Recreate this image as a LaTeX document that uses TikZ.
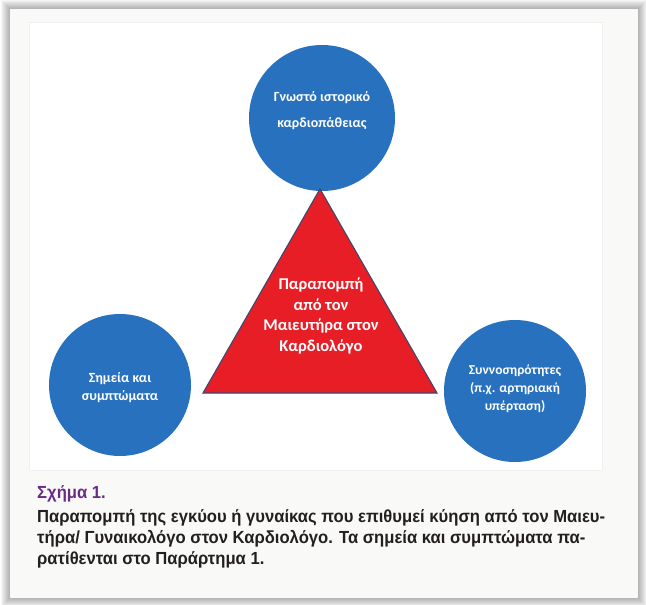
\documentclass[tikz,border=0pt]{standalone}
\usepackage{fontspec}
\setmainfont{Carlito}
\newfontfamily\diafont{Carlito Bold}
\newfontfamily\capfont[FakeStretch=0.95]{Liberation Sans Bold}
\definecolor{circblue}{RGB}{40,113,190}
\definecolor{trired}{RGB}{232,30,38}
\definecolor{triedge}{RGB}{60,70,110}
\definecolor{capurple}{RGB}{104,45,135}
\definecolor{captext}{RGB}{35,31,32}
\definecolor{pagebg}{RGB}{249,249,247}
\tikzset{
  circ/.style={circle, fill=circblue, minimum size=#1, inner sep=0pt},
  lbl/.style={text=white, align=center},
  caphead/.style={anchor=base west, inner sep=0pt, text=capurple, font=\capfont\fontsize{17.5}{18}\selectfont},
  capline/.style={anchor=base west, inner sep=0pt, text=captext, font=\capfont\fontsize{17.5}{18}\selectfont}
}
\begin{document}
\begin{tikzpicture}[x=1pt,y=-1pt]
\useasboundingbox (0,0) rectangle (646,605);
\fill[white] (0,0) rectangle (646,605);
% shadow
\foreach \i in {1,...,9} {
  \fill[black, opacity=0.035] (10-\i,9-\i) rectangle (638+\i,598+\i);
}
\fill[pagebg] (10,9) rectangle (638,598);
\fill[white] (29,22) rectangle (602,470);
\draw[black!6, line width=0.6pt] (29,22) rectangle (602,470);

% circles
\node[circ=146pt] (top) at (322,118) {};
\node[circ=142pt] (left) at (120,385) {};
\node[circ=142pt] (right) at (515,391) {};

% triangle
\coordinate (apex) at (320,189);
\coordinate (bl) at (203,393);
\coordinate (br) at (437,393);
\draw[fill=trired, draw=triedge, line width=1.1pt, line join=miter] (apex) -- (br) -- (bl) -- cycle;

% labels
\node[lbl, font=\diafont\fontsize{14}{26}\selectfont] (toptxt) at (322,111) {Γνωστό ιστορικό\\καρδιοπάθειας};
\node[lbl, font=\diafont\fontsize{14}{18}\selectfont] (lefttxt) at (120,388) {Σημεία και\\συμπτώματα};
\node[lbl, font=\diafont\fontsize{13.5}{18}\selectfont] (righttxt) at (515,389) {Συννοσηρότητες\\(π.χ. αρτηριακή\\υπέρταση)};
\node[lbl, font=\diafont\fontsize{16.5}{20.5}\selectfont] (tritxt) at (321,316) {Παραπομπή\\από τον\\Μαιευτήρα στον\\Καρδιολόγο};

% caption
\node[caphead] (cap0) at (37,498) {Σχήμα 1.};
\node[capline] (cap1) at (37,522) {Παραπομπή της εγκύου ή γυναίκας που επιθυμεί κύηση από τον Μαιευ-};
\node[capline] (cap2) at (37,543) {τήρα/ Γυναικολόγο στον Καρδιολόγο. Τα σημεία και συμπτώματα πα-};
\node[capline] (cap3) at (37,564) {ρατίθενται στο Παράρτημα 1.};
\end{tikzpicture}
\end{document}
